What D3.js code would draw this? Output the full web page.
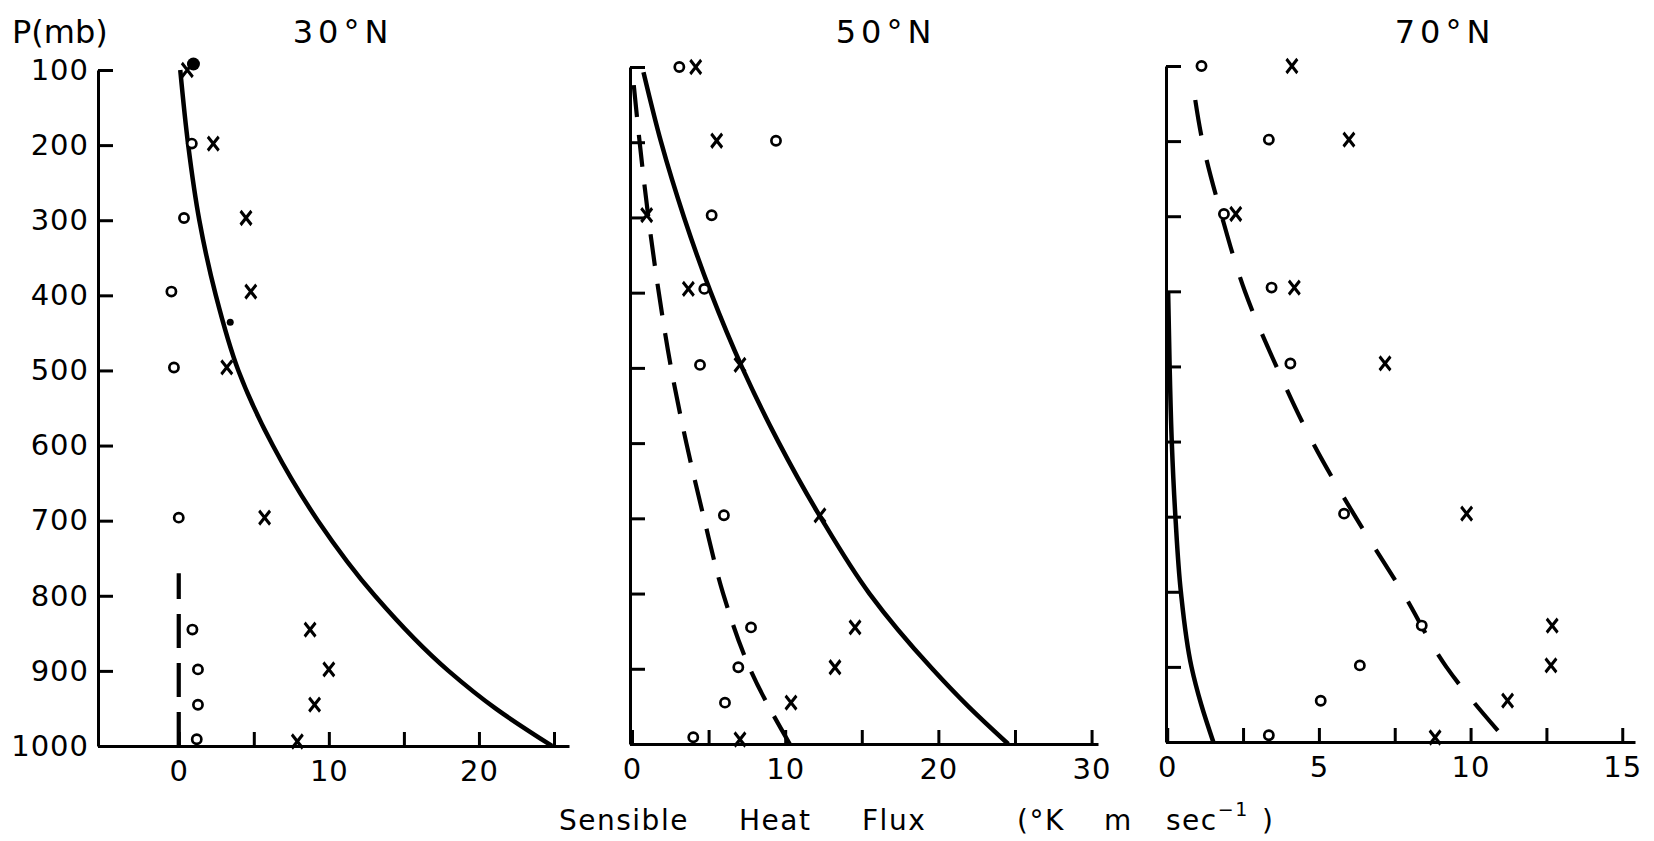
<!DOCTYPE html>
<html>
<head>
<meta charset="utf-8">
<script src="https://cdn.jsdelivr.net/npm/d3@7"></script>
<style>
  body { margin: 0; background: #fff; }
  svg { display: block; background: #fff; }
  text { font-family: "DejaVu Sans", sans-serif; fill: #000; }
  .axis .domain, .axis .tick line { stroke: #000; stroke-width: 3; }
  .axis text { font-size: 29px; font-family: "DejaVu Sans", sans-serif; letter-spacing: 1px; fill: #000; }
</style>
</head>
<body>
<svg id="plot" width="1654" height="841"></svg>
<script>
// pressure axis (mb) and the levels the points sit at
var pressureTicks = [100, 200, 300, 400, 500, 600, 700, 800, 900, 1000];
var circleLevels = [100, 198, 297, 395, 496, 696, 845, 898, 945, 991];
var crossLevels = [100, 198, 297, 395, 496, 696, 845, 898, 945, 994];

// 30N
var circles30 = [null, 0.87, 0.35, -0.49, -0.32, 0.0, 0.91, 1.28, 1.28, 1.2];
var crosses30 = [0.57, 2.3, 4.48, 4.8, 3.2, 5.72, 8.75, 10.0, 9.05, 7.9];
var dotLevels30 = [92, 436];
var dotValues30 = [0.98, 3.43];
var solidLevels30 = [100, 200, 300, 400, 500, 600, 700, 800, 900, 950, 1000];
var solidValues30 = [0.1, 0.63, 1.37, 2.47, 3.97, 6.27, 9.27, 13.07, 17.97, 21.1, 24.87];
var dashLevels30 = [770, 1000];
var dashValues30 = [0, 0];
var xTicks30 = [0, 5, 10, 15, 20, 25];
var xLabels30 = [0, 10, 20];

// 50N
var circles50 = [3.09, 9.4, 5.2, 4.72, 4.44, 6.0, 7.77, 6.94, 6.07, 4.0];
var crosses50 = [4.16, 5.53, 0.96, 3.68, 7.05, 12.27, 14.56, 13.25, 10.38, 7.05];
var solidLevels50 = [107, 200, 300, 400, 500, 600, 700, 800, 900, 950, 1000];
var solidValues50 = [0.75, 1.9, 3.4, 5.15, 7.2, 9.6, 12.35, 15.5, 19.6, 21.95, 24.56];
var dashLevels50 = [100, 200, 300, 400, 500, 600, 700, 800, 900, 1000];
var dashValues50 = [0.0, 0.5, 1.07, 1.75, 2.55, 3.55, 4.7, 5.95, 7.7, 10.3];
var xTicks50 = [0, 5, 10, 15, 20, 25, 30];
var xLabels50 = [0, 10, 20, 30];

// 70N
var circles70 = [1.13, 3.35, 1.87, 3.44, 4.06, 5.83, 8.39, 6.35, 5.06, 3.35];
var crosses70 = [4.11, 5.99, 2.26, 4.19, 7.18, 9.87, 12.69, 12.65, 11.22, 8.83];
var solidLevels70 = [400, 500, 600, 700, 800, 900, 950, 1000];
var solidValues70 = [0.03, 0.08, 0.15, 0.27, 0.45, 0.8, 1.12, 1.52];
var dashLevels70 = [125, 200, 300, 400, 500, 600, 700, 800, 900, 985];
var dashValues70 = [0.85, 1.16, 1.8, 2.56, 3.6, 4.78, 6.2, 7.75, 9.2, 10.9];
var xTicks70 = [0, 2.5, 5, 7.5, 10, 12.5, 15];
var xLabels70 = [0, 5, 10, 15];

var svg = d3.select('#plot');

var panels = [
  { title: '30°N', titleX: 343, left: 98, right: 569, top: 70, bottom: 746, xDomain: [-5.38, 26],
    circles: circles30, crosses: crosses30, dotLevels: dotLevels30, dotValues: dotValues30,
    solidLevels: solidLevels30, solidValues: solidValues30,
    dashLevels: dashLevels30, dashValues: dashValues30, dash: 34, gap: 15,
    xTicks: xTicks30, xLabels: xLabels30, yLabels: true },
  { title: '50°N', titleX: 886, left: 630, right: 1098, top: 67, bottom: 744, xDomain: [-0.13, 30.42],
    circles: circles50, crosses: crosses50, dotLevels: [], dotValues: [],
    solidLevels: solidLevels50, solidValues: solidValues50,
    dashLevels: dashLevels50, dashValues: dashValues50, dash: 32, gap: 18,
    xTicks: xTicks50, xLabels: xLabels50, yLabels: false },
  { title: '70°N', titleX: 1445, left: 1166, right: 1635, top: 66, bottom: 742, xDomain: [-0.04, 15.42],
    circles: circles70, crosses: crosses70, dotLevels: [], dotValues: [],
    solidLevels: solidLevels70, solidValues: solidValues70,
    dashLevels: dashLevels70, dashValues: dashValues70, dash: 36, gap: 25,
    xTicks: xTicks70, xLabels: xLabels70, yLabels: false }
];

// turn two parallel arrays into point objects
function pairs(levels, values) {
  return levels.map(function (p, i) { return { p: p, v: values[i] }; })
    .filter(function (d) { return d.v !== null; });
}

function drawPanel(cfg) {
  var x = d3.scaleLinear().domain(cfg.xDomain).range([cfg.left, cfg.right]);
  var y = d3.scaleLinear().domain([100, 1000]).range([cfg.top, cfg.bottom]);
  var g = svg.append('g');

  // axes: ticks point into the plot
  var xAxis = d3.axisBottom(x)
    .tickValues(cfg.xTicks)
    .tickSizeInner(-14)
    .tickSizeOuter(0)
    .tickPadding(14)
    .tickFormat(function (d) { return cfg.xLabels.indexOf(d) >= 0 ? d : ''; });
  g.append('g')
    .attr('class', 'axis')
    .attr('transform', 'translate(0,' + cfg.bottom + ')')
    .call(xAxis);

  var yAxis = d3.axisLeft(y)
    .tickValues(pressureTicks)
    .tickSizeInner(-15)
    .tickSizeOuter(0)
    .tickPadding(9)
    .tickFormat(function (d) { return cfg.yLabels ? d : ''; });
  g.append('g')
    .attr('class', 'axis')
    .attr('transform', 'translate(' + cfg.left + ',0)')
    .call(yAxis);

  var line = d3.line()
    .x(function (d) { return x(d.v); })
    .y(function (d) { return y(d.p); })
    .curve(d3.curveMonotoneY);

  g.append('path')
    .datum(pairs(cfg.solidLevels, cfg.solidValues))
    .attr('d', line)
    .attr('fill', 'none')
    .attr('stroke', '#000')
    .attr('stroke-width', 4.5);

  var dashed = g.append('path')
    .datum(pairs(cfg.dashLevels, cfg.dashValues))
    .attr('d', line)
    .attr('fill', 'none')
    .attr('stroke', '#000')
    .attr('stroke-width', 4.2)
    .attr('stroke-dasharray', cfg.dash + ',' + cfg.gap);
  // shift the pattern so the last dash reaches the end of the curve
  var period = cfg.dash + cfg.gap;
  var len = dashed.node().getTotalLength();
  dashed.attr('stroke-dashoffset', ((cfg.dash - len) % period + period) % period);

  // open circles
  g.selectAll('circle.o')
    .data(pairs(circleLevels, cfg.circles))
    .enter()
    .append('circle')
    .attr('class', 'o')
    .attr('cx', function (d) { return x(d.v); })
    .attr('cy', function (d) { return y(d.p); })
    .attr('r', 4.6)
    .attr('fill', '#fff')
    .attr('stroke', '#000')
    .attr('stroke-width', 2.7);

  // filled dots
  g.selectAll('circle.dot')
    .data(pairs(cfg.dotLevels, cfg.dotValues))
    .enter()
    .append('circle')
    .attr('class', 'dot')
    .attr('cx', function (d) { return x(d.v); })
    .attr('cy', function (d) { return y(d.p); })
    .attr('r', function (d, i) { return i === 0 ? 6.5 : 3.5; })
    .attr('fill', '#000');

  // crosses
  var cross = d3.symbol().type(d3.symbolX).size(88);
  g.selectAll('path.x')
    .data(pairs(crossLevels, cfg.crosses))
    .enter()
    .append('path')
    .attr('class', 'x')
    .attr('d', cross)
    .attr('transform', function (d) {
      return 'translate(' + x(d.v) + ',' + y(d.p) + ') scale(0.95,1.2)';
    })
    .attr('fill', 'none')
    .attr('stroke', '#000')
    .attr('stroke-width', 3);

  svg.append('text')
    .attr('x', cfg.titleX)
    .attr('y', 43)
    .attr('text-anchor', 'middle')
    .style('font-size', '32px')
    .style('letter-spacing', '5px')
    .text(cfg.title);
}

panels.forEach(drawPanel);

svg.append('text')
  .attr('x', 12)
  .attr('y', 43)
  .style('font-size', '32px')
  .text('P(mb)');

// x axis title, words spread out like the original lettering
var label = svg.append('text')
  .attr('y', 830)
  .style('font-size', '28px')
  .style('letter-spacing', '1.5px');
label.append('tspan').attr('x', 559).text('Sensible');
label.append('tspan').attr('x', 739).text('Heat');
label.append('tspan').attr('x', 862).text('Flux');
label.append('tspan').attr('x', 1017).text('(°K');
label.append('tspan').attr('x', 1104).text('m');
label.append('tspan').attr('x', 1166).text('sec');
label.append('tspan').attr('dy', -14).style('font-size', '19px').text('−1');
label.append('tspan').attr('x', 1262).attr('dy', 14).text(')');
</script>
</body>
</html>
